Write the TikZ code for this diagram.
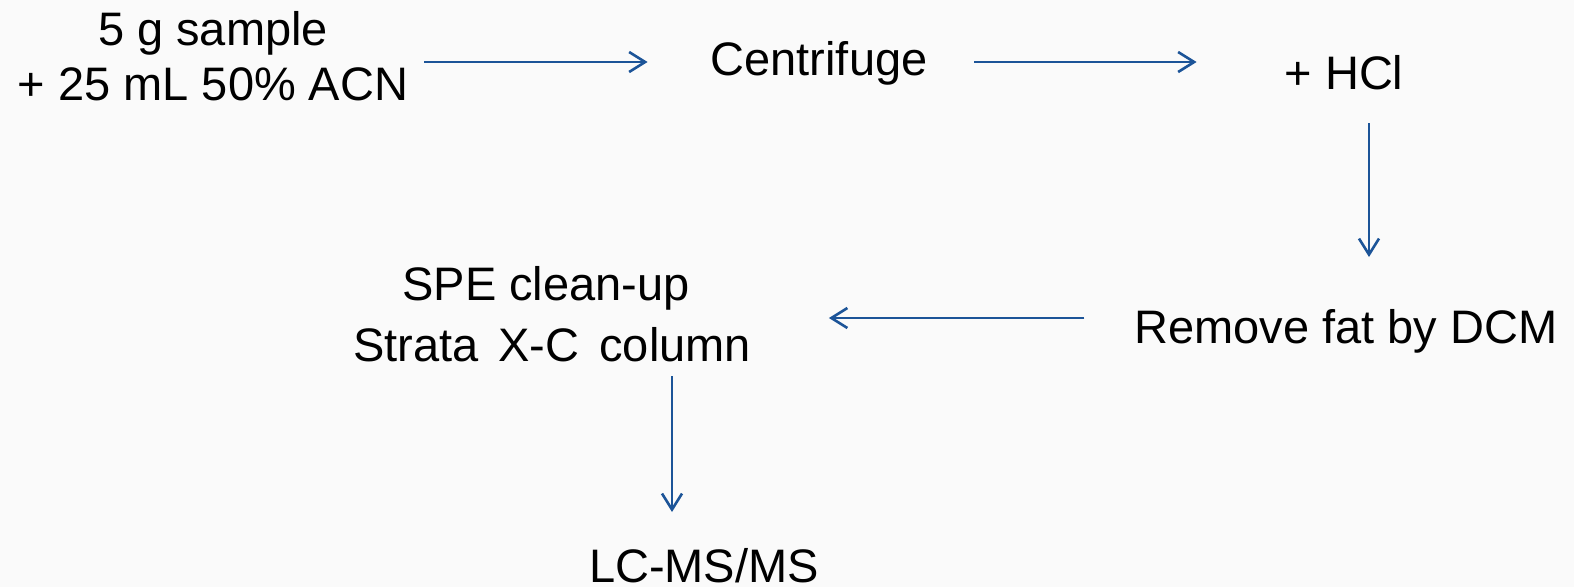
\documentclass[tikz,border=0pt]{standalone}
\usepackage{fontspec}
\setmainfont{Liberation Sans}
\usetikzlibrary{arrows.meta}
\definecolor{pagebg}{RGB}{250,250,250}
\definecolor{flowblue}{RGB}{28,84,152}
\tikzset{
  stage/.style={inner sep=0pt, outer sep=0pt, text=black, align=center, anchor=base},
  flow/.style={draw=flowblue, line width=2.6pt,
    -{Straight Barb[length=16pt,width=20pt,line width=2.6pt]}}
}
\begin{document}
\begin{tikzpicture}[x=1pt,y=-1pt]
  % canvas
  \fill[pagebg] (0,0) rectangle (1574,587);
  \useasboundingbox (0,0) rectangle (1574,587);

  % guide rows and columns for the connectors
  \coordinate (row1) at (0,62);
  \coordinate (row2) at (0,318);
  \coordinate (col3) at (1369,0);
  \coordinate (col5) at (672,0);

  % process steps (multi-line nodes sit on the baseline of their last line)
  \node[stage, font=\fontsize{47}{55}\selectfont] (sample) at (213,100)
    {5 g sample\\+ 25 mL 50\% ACN};
  \node[stage, font=\fontsize{47}{55}\selectfont] (cent) at (819,75) {Centrifuge};
  \node[stage, font=\fontsize{47}{55}\selectfont] (hcl) at (1344,89) {+ HCl};
  \node[stage, font=\fontsize{47}{55}\selectfont] (fat) at (1346,343) {Remove fat by DCM};
  \node[stage, font=\fontsize{47}{61}\selectfont] (spe) at (552,361)
    {SPE clean-up\hspace*{12pt}\\Strata\hspace{20pt}X-C\hspace{20pt}column};
  \node[stage, font=\fontsize{47}{55}\selectfont] (lc) at (704,582) {LC-MS/MS};

  % connectors
  \draw[flow, shorten <=16pt, shorten >=63pt] (sample.east |- row1) -- (cent.west |- row1);
  \draw[flow, shorten <=47pt, shorten >=88pt] (cent.east |- row1) -- (hcl.west |- row1);
  \draw[flow, shorten <=34pt, shorten >=86pt] (hcl.base -| col3) -- (fat.base -| col3);
  \draw[flow, shorten <=50pt, shorten >=78pt] (fat.west |- row2) -- (spe.east |- row2);
  \draw[flow, shorten <=15pt, shorten >=70pt] (spe.south -| col5) -- (lc.base -| col5);
\end{tikzpicture}
\end{document}
